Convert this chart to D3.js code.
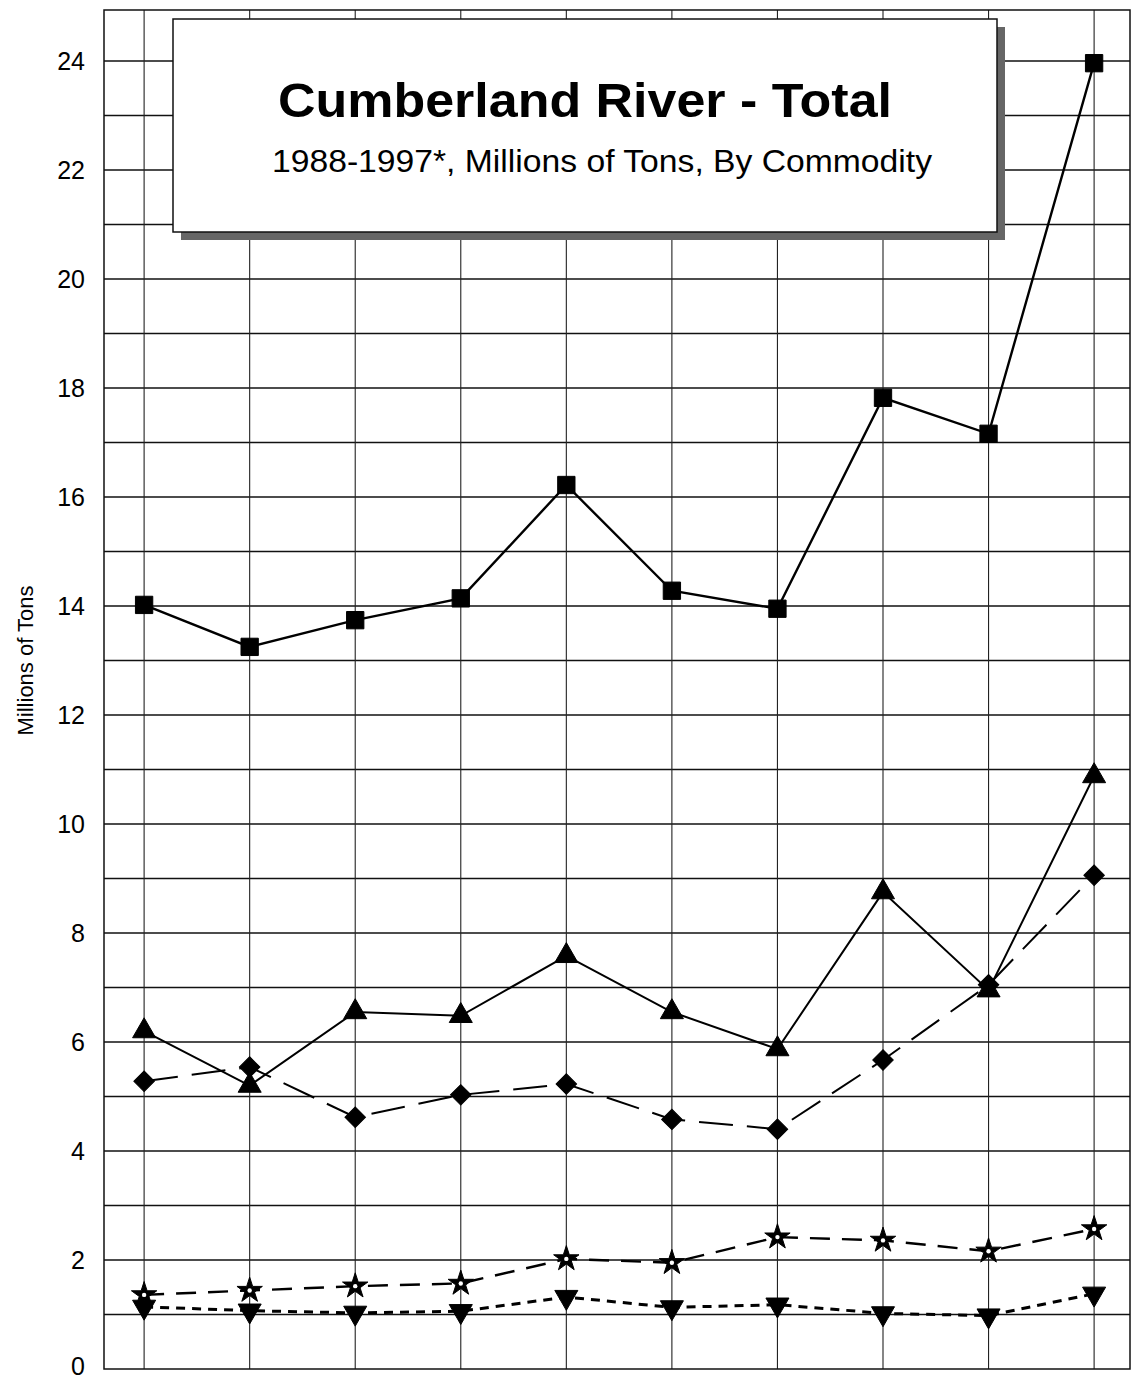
<!DOCTYPE html>
<html>
<head>
<meta charset="utf-8">
<script src="https://cdnjs.cloudflare.com/ajax/libs/d3/7.8.5/d3.min.js"></script>
<style>
  html, body { margin: 0; padding: 0; background: #fff; }
  svg { display: block; font-family: Helvetica, Arial, "Liberation Sans", sans-serif; }
</style>
</head>
<body>
<div id="chart"></div>
<script>
// years (the reference shows no x labels, only the gridlines)
const years = [1988, 1989, 1990, 1991, 1992, 1993, 1994, 1995, 1996, 1997];

// series values, millions of tons
const totalVals    = [14.02, 13.25, 13.74, 14.14, 16.22, 14.28, 13.95, 17.82, 17.16, 23.96];
const triangleVals = [6.2, 5.2, 6.55, 6.48, 7.58, 6.55, 5.87, 8.75, 6.95, 10.88];
const diamondVals  = [5.28, 5.54, 4.62, 5.03, 5.23, 4.58, 4.4, 5.67, 7.05, 9.06];
const starVals     = [1.36, 1.44, 1.52, 1.57, 2.02, 1.95, 2.42, 2.36, 2.16, 2.57];
const downVals     = [1.14, 1.07, 1.03, 1.06, 1.32, 1.13, 1.18, 1.02, 0.98, 1.38];

const yTicks = [0, 2, 4, 6, 8, 10, 12, 14, 16, 18, 20, 22, 24];

const titleText = 'Cumberland River - Total';
const subtitleText = '1988-1997*, Millions of Tons, By Commodity';
const yLabel = 'Millions of Tons';

const series = [
    { name: 'Total',   values: totalVals,    symbol: d3.symbolSquare,   size: 300, rotate: 0,  dash: null,    width: 2.4 },
    { name: 'Series2', values: triangleVals, symbol: d3.symbolTriangle, size: 230, rotate: 0,  dash: null,    width: 2 },
    { name: 'Series3', values: diamondVals,  symbol: d3.symbolSquare,   size: 210, rotate: 45, dash: '34,14', width: 2 },
    { name: 'Series4', values: starVals,     symbol: d3.symbolStar,     size: 200, rotate: 0,  dash: '20,12', width: 2.4 },
    { name: 'Series5', values: downVals,     symbol: 'down',            size: 230, rotate: 0,  dash: '9,7',   width: 3 }
];

const W = 1139, H = 1378;
const frame = { left: 104, right: 1130, top: 10, bottom: 1369 };

const svg = d3.select('#chart').append('svg')
    .attr('width', W)
    .attr('height', H);

const x = d3.scaleLinear()
    .domain([-0.38, years.length - 1 + 0.34])
    .range([frame.left, frame.right]);

const y = d3.scaleLinear()
    .domain([0, 24])
    .range([frame.bottom, 61]);

const gridVals = d3.range(1, 26);

// horizontal grid, every unit
svg.append('g')
    .selectAll('line')
    .data(gridVals.filter(v => y(v) > frame.top))
    .enter()
    .append('line')
    .attr('x1', frame.left)
    .attr('x2', frame.right)
    .attr('y1', d => y(d))
    .attr('y2', d => y(d))
    .attr('stroke', '#111')
    .attr('stroke-width', 1.6);

// vertical grid at each year
svg.append('g')
    .selectAll('line')
    .data(years)
    .enter()
    .append('line')
    .attr('x1', (d, i) => x(i))
    .attr('x2', (d, i) => x(i))
    .attr('y1', frame.top)
    .attr('y2', frame.bottom)
    .attr('stroke', '#222')
    .attr('stroke-width', 1.1);

// frame
svg.append('rect')
    .attr('x', frame.left)
    .attr('y', frame.top)
    .attr('width', frame.right - frame.left)
    .attr('height', frame.bottom - frame.top)
    .attr('fill', 'none')
    .attr('stroke', '#111')
    .attr('stroke-width', 1.5);

// y axis tick labels
const yAxis = svg.append('g')
    .attr('transform', `translate(${frame.left},0)`)
    .call(d3.axisLeft(y).tickValues(yTicks).tickSize(0).tickPadding(19));
yAxis.select('.domain').remove();
yAxis.selectAll('text')
    .style('font-size', '25px')
    .style('font-family', 'Helvetica, Arial, "Liberation Sans", sans-serif')
    .attr('fill', '#000')
    .attr('dy', d => d === 0 ? '0.2em' : '0.32em');

svg.append('text')
    .attr('transform', `translate(33,${y(13)}) rotate(-90)`)
    .attr('text-anchor', 'middle')
    .style('font-size', '22px')
    .attr('fill', '#000')
    .text(yLabel);

// title box with shadow
const box = { x: 173, y: 19, w: 824, h: 213 };
svg.append('rect')
    .attr('x', box.x + 8)
    .attr('y', box.y + 8)
    .attr('width', box.w)
    .attr('height', box.h)
    .attr('fill', '#666');
svg.append('rect')
    .attr('x', box.x)
    .attr('y', box.y)
    .attr('width', box.w)
    .attr('height', box.h)
    .attr('fill', '#fff')
    .attr('stroke', '#111')
    .attr('stroke-width', 1.5);
svg.append('text')
    .attr('x', 585)
    .attr('y', 117)
    .attr('text-anchor', 'middle')
    .style('font-size', '49px')
    .attr('font-weight', 'bold')
    .attr('textLength', 614)
    .attr('lengthAdjust', 'spacingAndGlyphs')
    .attr('fill', '#000')
    .text(titleText);
svg.append('text')
    .attr('x', 602)
    .attr('y', 172)
    .attr('text-anchor', 'middle')
    .style('font-size', '31px')
    .attr('textLength', 660)
    .attr('lengthAdjust', 'spacingAndGlyphs')
    .attr('fill', '#000')
    .text(subtitleText);

// lines and markers
const line = d3.line()
    .x((d, i) => x(i))
    .y(d => y(d));

const downTri = size => {
    const p = d3.path();
    const h = Math.sqrt(size * 4 / Math.sqrt(3)) * Math.sqrt(3) / 2;
    const s = h * 2 / Math.sqrt(3);
    p.moveTo(-s / 2, -h / 3);
    p.lineTo(s / 2, -h / 3);
    p.lineTo(0, h * 2 / 3);
    p.closePath();
    return p.toString();
};

series.forEach(s => {
    svg.append('path')
        .datum(s.values)
        .attr('d', line)
        .attr('fill', 'none')
        .attr('stroke', '#000')
        .attr('stroke-width', s.width)
        .attr('stroke-dasharray', s.dash);

    const marks = svg.append('g')
        .selectAll('g')
        .data(s.values)
        .enter()
        .append('g')
        .attr('transform', (d, i) => `translate(${x(i)},${y(d)}) rotate(${s.rotate})`);

    marks.append('path')
        .attr('d', s.symbol === 'down' ? downTri(s.size) : d3.symbol().type(s.symbol).size(s.size)())
        .attr('fill', '#000')
        .attr('stroke', '#000')
        .attr('stroke-width', 1);

    if (s.symbol === d3.symbolStar) {
        marks.append('circle')
            .attr('r', 2.2)
            .attr('fill', '#fff');
    }
});
</script>
</body>
</html>
